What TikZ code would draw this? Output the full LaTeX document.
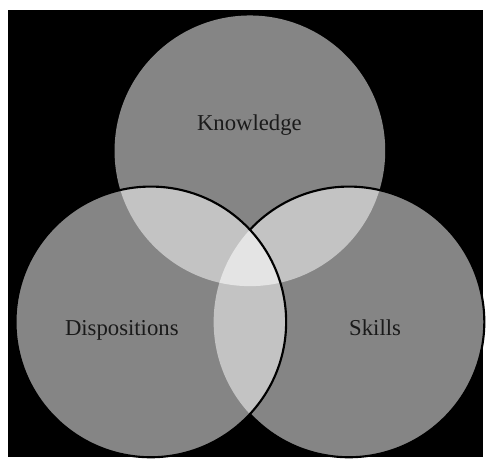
\documentclass[tikz,border=0pt]{standalone}
\usepackage{fontspec}
\setmainfont{Liberation Serif}
\usepackage{tikz}
\usetikzlibrary{positioning}

\definecolor{vennbase}{HTML}{858585}
\definecolor{venntwo}{HTML}{C3C3C3}
\definecolor{vennthree}{HTML}{E4E4E4}
\definecolor{vennink}{HTML}{1A1A1A}

\tikzset{
  area/.style={font=\fontsize{23.5}{28}\selectfont, text=vennink, anchor=base, inner sep=0pt},
  rim/.style={draw=black, line width=2.2pt},
}

\begin{document}
\begin{tikzpicture}[x=1pt,y=-1pt]
    \fill[white] (0,0) rectangle (500,473);
    \fill[black] (8,10) rectangle (500,473);

    \def\rad{140}
    \coordinate (K) at (258.5,156);
    \coordinate (D) at (156,333);
    \coordinate (S) at (361,333);

    % the three sets
    \fill[vennbase] (K) circle[radius=\rad];
    \fill[vennbase] (D) circle[radius=\rad];
    \fill[vennbase] (S) circle[radius=\rad];

    % pairs
    \begin{scope}
        \clip (K) circle[radius=\rad];
        \fill[venntwo] (D) circle[radius=\rad];
        \fill[venntwo] (S) circle[radius=\rad];
    \end{scope}
    \begin{scope}
        \clip (D) circle[radius=\rad];
        \fill[venntwo] (S) circle[radius=\rad];
    \end{scope}

    % all three
    \begin{scope}
        \clip (K) circle[radius=\rad];
        \clip (D) circle[radius=\rad];
        \fill[vennthree] (S) circle[radius=\rad];
    \end{scope}

    % outlines
    \draw[rim] (S) ++(137:\rad) arc[start angle=137, end angle=-137, radius=\rad];
    \draw[rim] (D) circle[radius=\rad];

    \node[area] (knowledge) at (258,135) {Knowledge};
    \node[area] (dispositions) at (126,347) {Dispositions};
    \node[area] (skills) at (388,347) {Skills};
\end{tikzpicture}
\end{document}
